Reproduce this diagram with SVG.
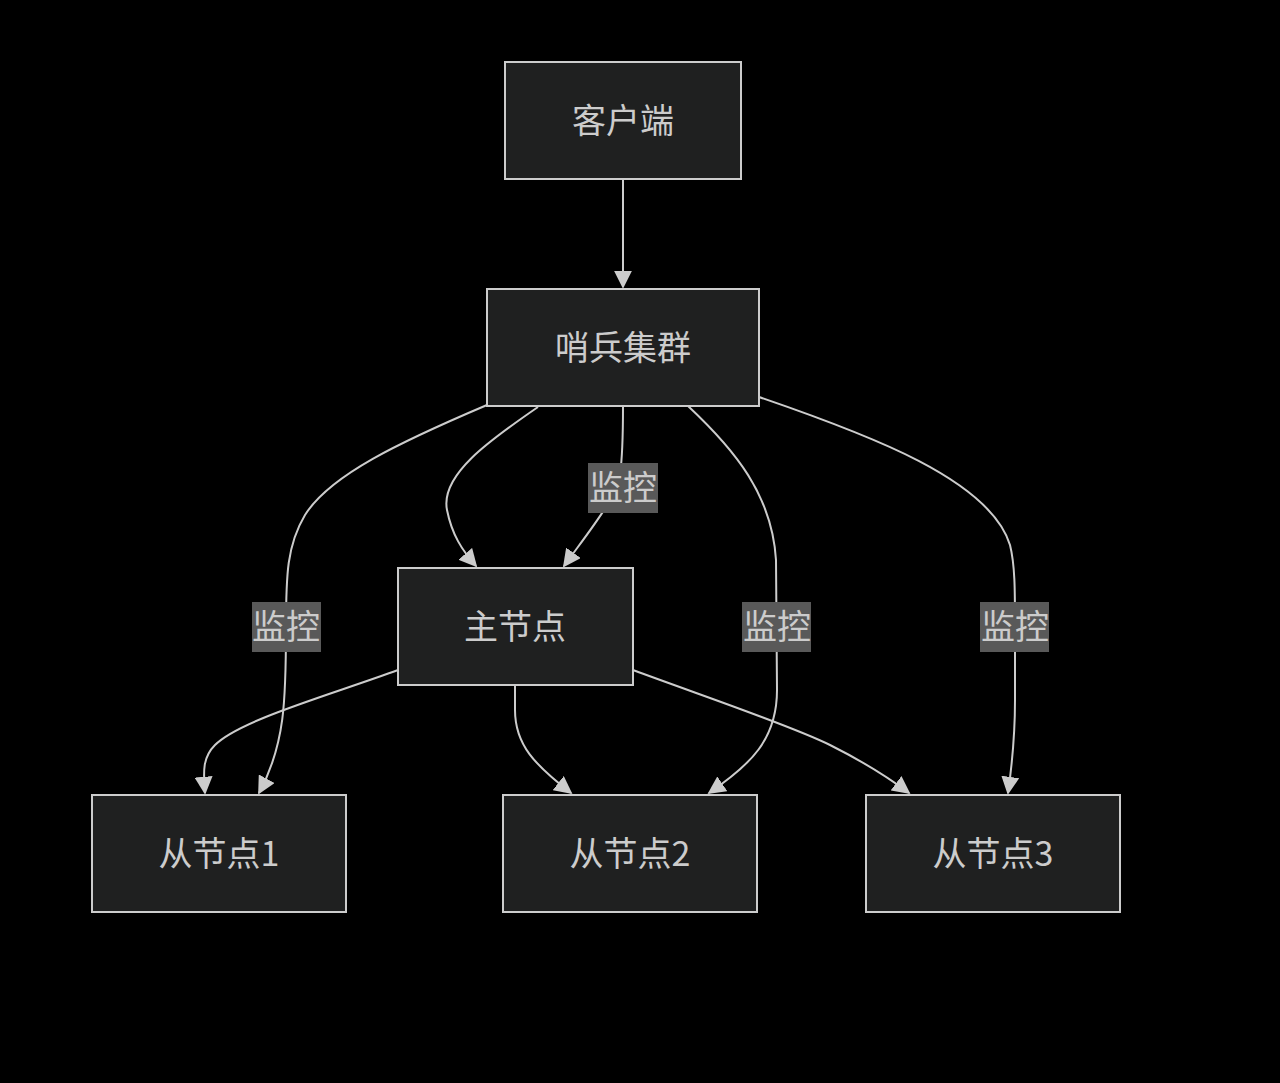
<svg xmlns="http://www.w3.org/2000/svg" width="1280" height="1083" viewBox="0 0 1280 1083">
<style>
.node rect{fill:#1f2020;stroke:#cccccc;stroke-width:2}
.node text{fill:#cccccc;font-family:"Noto Sans CJK SC","Noto Sans",sans-serif;font-size:34px;text-anchor:middle;dominant-baseline:central}
.edge{fill:none;stroke:#cccccc;stroke-width:2;marker-end:url(#arr)}
.lbl rect{fill:#595959}
.lbl text{fill:#cccccc;font-family:"Noto Sans CJK SC","Noto Sans",sans-serif;font-size:34px;text-anchor:middle;dominant-baseline:central}
</style>
<defs>
<marker id="arr" viewBox="0 0 10 10" refX="9" refY="5" markerUnits="userSpaceOnUse" markerWidth="18" markerHeight="18" orient="auto">
<path d="M0,0 L10,5 L0,10 z" fill="#cccccc"/>
</marker>
</defs>
<rect width="1280" height="1083" fill="#000000"/>
<g id="connectors">
<path class="edge" d="M623,180 L623,287"/>
<path class="edge" d="M538,407 C490,440 440,475 447,510 C452,535 462,550 476,566"/>
<path class="edge" d="M623,407 C623,440 622,460 620,475 C615,500 590,530 564,566"/>
<path class="edge" d="M487,405 C400,442 330,475 305,515 C287,545 286,575 286,627 C286,700 285,745 259,793"/>
<path class="edge" d="M688,406 C735,450 772,495 776,560 L777,690 C777,740 750,765 709,793"/>
<path class="edge" d="M759,397 C870,435 990,480 1010,545 C1015,565 1015,590 1015,627 L1015,700 C1015,740 1012,765 1008,793"/>
<path class="edge" d="M398,670 C330,695 240,720 215,745 C203,757 203,770 205,793"/>
<path class="edge" d="M515,686 L515,710 C515,745 535,765 571,793"/>
<path class="edge" d="M633,670 C700,695 790,725 830,745 C860,760 885,775 909,793"/>
</g>
<g id="labels">
<g class="lbl"><rect x="588" y="463" width="70" height="50"/><text x="623" y="485">监控</text></g>
<g class="lbl"><rect x="252" y="602" width="69" height="50"/><text x="286" y="624">监控</text></g>
<g class="lbl"><rect x="742" y="602" width="69" height="50"/><text x="777" y="624">监控</text></g>
<g class="lbl"><rect x="980" y="602" width="69" height="50"/><text x="1015" y="624">监控</text></g>
</g>
<g id="client" class="node"><rect x="505" y="62" width="236" height="117"/><text x="623" y="118">客户端</text></g>
<g id="sentinel" class="node"><rect x="487" y="289" width="272" height="117"/><text x="623" y="345">哨兵集群</text></g>
<g id="master" class="node"><rect x="398" y="568" width="235" height="117"/><text x="515" y="624">主节点</text></g>
<g id="slave1" class="node"><rect x="92" y="795" width="254" height="117"/><text x="219" y="851">从节点1</text></g>
<g id="slave2" class="node"><rect x="503" y="795" width="254" height="117"/><text x="630" y="851">从节点2</text></g>
<g id="slave3" class="node"><rect x="866" y="795" width="254" height="117"/><text x="993" y="851">从节点3</text></g>
</svg>
